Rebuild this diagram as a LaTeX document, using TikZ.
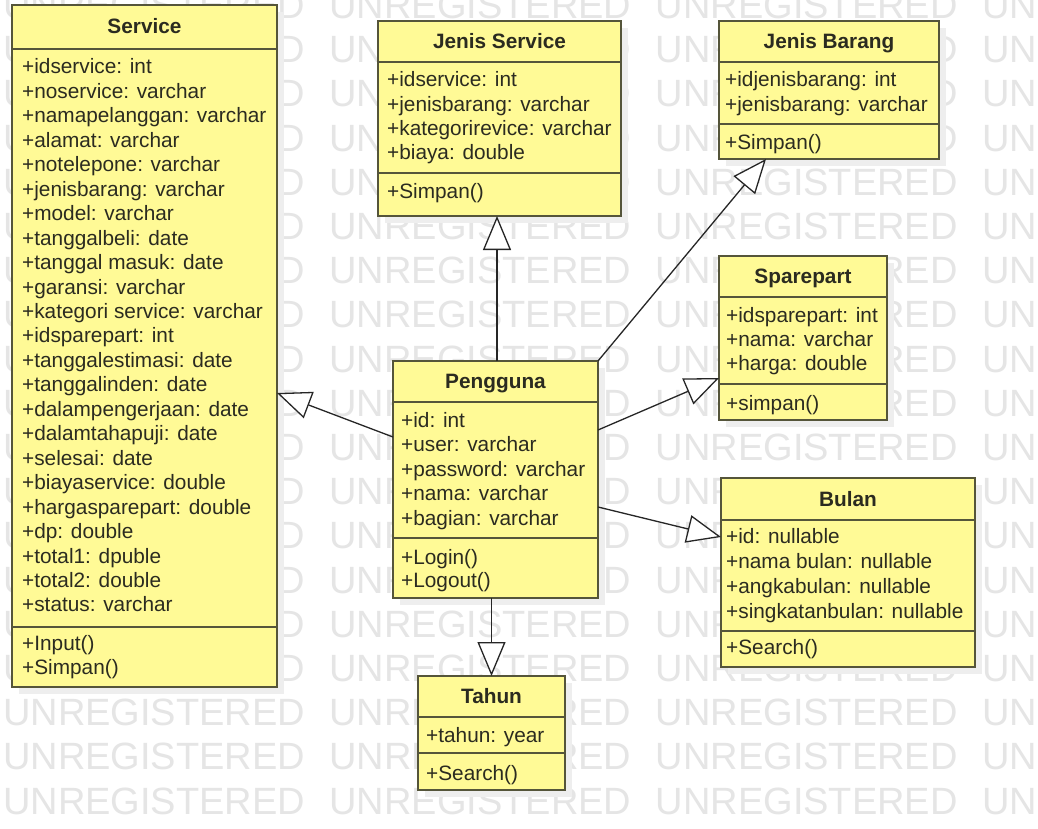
\documentclass[tikz,border=0pt]{standalone}
\usepackage{fontspec}
\setmainfont{Liberation Sans}
\usetikzlibrary{arrows.meta}

\definecolor{boxfill}{HTML}{FFFA96}
\definecolor{boxline}{HTML}{55553A}
\definecolor{inkc}{HTML}{2B2B20}
\definecolor{wmark}{HTML}{E5E5E5}
\definecolor{shadowc}{HTML}{EEEEEE}

\tikzset{
  clsbox/.style={draw=boxline, fill=boxfill, line width=1.8pt, inner sep=0pt, outer sep=0pt, anchor=north west},
  clsrule/.style={draw=boxline, line width=1.8pt},
  clstitle/.style={font=\fontsize{20.8}{24}\selectfont\bfseries, text=inkc, inner sep=0pt, anchor=base},
  clstext/.style={font=\fontsize{20.8}{24}\selectfont, text=inkc, inner sep=0pt, anchor=base west},
  wm/.style={font=\fontsize{38}{40}\selectfont, text=wmark, inner sep=0pt, anchor=base west},
  gen/.style={draw=black!85, line width=1.3pt, -{Triangle[fill=white, length=34pt, width=28pt]}},
}

% class frame: name, left, top, right, bottom, first rule, second rule, title
\newcommand\classbox[8]{%
  \fill[shadowc] ({#2+7},{#3+7}) rectangle ({#4+7},{#5+7});
  \node[clsbox, minimum width={#4-#2}, minimum height={#5-#3}] (#1) at (#2,#3) {};
  \draw[clsrule] (#2,#6) -- (#4,#6);
  \draw[clsrule] (#2,#7) -- (#4,#7);
  \node[clstitle] (#1-title) at ({(#2+#4)/2},{(#3+#6)/2+7}) {#8};
}
% list of members: name prefix, x, first baseline, line pitch, entries
\newcommand\memberlist[5]{%
  \foreach \t [count=\i from 0] in {#5} {\node[clstext] (#1\i) at (#2,{#3+\i*#4}) {\t};}
}

\begin{document}
\begin{tikzpicture}[x=1pt,y=-1pt]
\useasboundingbox (0,0) rectangle (1038,829);
\clip (0,0) rectangle (1038,829);
\fill[white] (0,0) rectangle (1038,829);

% watermark grid
\foreach \r in {0,...,18} {
  \foreach \c in {0,...,3} {
    \node[wm] (wm-\r-\c) at ({3+326.3*\c},{5+44.2*\r+13.5}) {UNREGISTERED};
  }
}

% Service
\classbox{svc}{12}{5}{277}{687}{49}{627}{Service}
\memberlist{svc-a}{22}{74}{24.45}{+idservice: int, +noservice: varchar, +namapelanggan: varchar,
  +alamat: varchar, +notelepone: varchar, +jenisbarang: varchar, +model: varchar,
  +tanggalbeli: date, +tanggal masuk: date, +garansi: varchar, +kategori service: varchar,
  +idsparepart: int, +tanggalestimasi: date, +tanggalinden: date, +dalampengerjaan: date,
  +dalamtahapuji: date, +selesai: date, +biayaservice: double, +hargasparepart: double,
  +dp: double, +total1: dpuble, +total2: double, +status: varchar}
\memberlist{svc-m}{22}{650}{24.4}{+Input(), +Simpan()}

% Jenis Service
\classbox{js}{378}{21}{621}{216}{62}{173}{Jenis Service}
\memberlist{js-a}{387}{87}{24.3}{+idservice: int, +jenisbarang: varchar, +kategorirevice: varchar, +biaya: double}
\memberlist{js-m}{387}{199}{24}{+Simpan()}

% Jenis Barang
\classbox{jb}{719}{21}{939}{159}{62}{124}{Jenis Barang}
\memberlist{jb-a}{725}{87}{24.3}{+idjenisbarang: int, +jenisbarang: varchar}
\memberlist{jb-m}{725}{150}{24}{+Simpan()}

% Sparepart
\classbox{sp}{719}{256}{887}{420}{297}{384}{Sparepart}
\memberlist{sp-a}{726}{322}{24.4}{+idsparepart: int, +nama: varchar, +harga: double}
\memberlist{sp-m}{726}{410}{24}{+simpan()}

% Pengguna
\classbox{png}{393}{361}{598}{598}{402}{538}{Pengguna}
\memberlist{png-a}{401}{427}{24.5}{+id: int, +user: varchar, +password: varchar, +nama: varchar, +bagian: varchar}
\memberlist{png-m}{401}{564}{23}{+Login(), +Logout()}

% Bulan
\classbox{bln}{721}{478}{975}{667}{520}{631}{Bulan}
\memberlist{bln-a}{726}{543}{25}{+id: nullable, +nama bulan: nullable, +angkabulan: nullable, +singkatanbulan: nullable}
\memberlist{bln-m}{726}{654}{24}{+Search()}

% Tahun
\classbox{th}{418}{676}{565}{790}{717}{753}{Tahun}
\memberlist{th-a}{426}{742}{24}{+tahun: year}
\memberlist{th-m}{426}{780}{24}{+Search()}

% generalizations
\draw[gen] ([yshift=42.5pt]png.west) -- ([yshift=-47pt]svc.east);
\draw[gen] ([xshift=1.5pt]png.north) -- ([xshift=-2.5pt]js.south);
\draw[gen] (png.north east) -- ([xshift=-63pt]jb.south);
\draw[gen] ([yshift=49.5pt]png.east) -- ([yshift=-40pt]sp.west);
\draw[gen] ([yshift=-27.5pt]png.east) -- ([yshift=35.5pt]bln.west);
\draw[gen] (png.south -| th.north) -- (th.north);
\end{tikzpicture}
\end{document}
